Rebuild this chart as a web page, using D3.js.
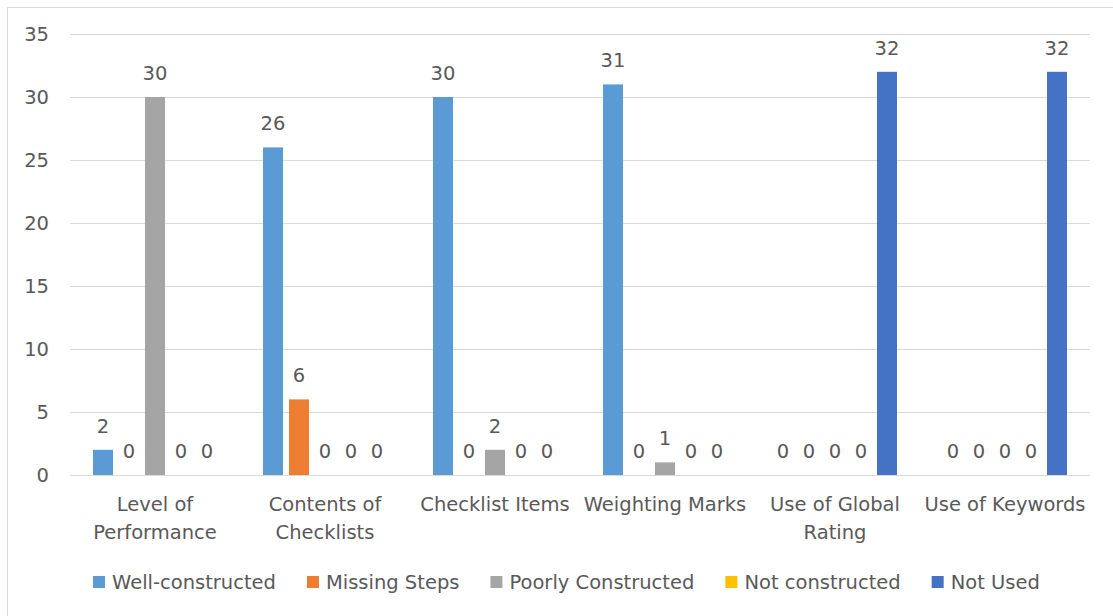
<!DOCTYPE html>
<html>
<head>
<meta charset="utf-8">
<script src="https://d3js.org/d3.v7.min.js"></script>
<style>
  body { margin: 0; background: #fff; }
  svg { display: block; font-family: "DejaVu Sans", sans-serif; }
</style>
</head>
<body>
<div class="main"></div>
<script>
//// data
const categories = ['Level of Performance', 'Contents of Checklists', 'Checklist Items', 'Weighting Marks', 'Use of Global Rating', 'Use of Keywords'];
const seriesNames = ['Well-constructed', 'Missing Steps', 'Poorly Constructed', 'Not constructed', 'Not Used'];
const wellConstructed = [2, 26, 30, 31, 0, 0];
const missingSteps = [0, 6, 0, 0, 0, 0];
const poorlyConstructed = [30, 0, 2, 1, 0, 0];
const notConstructed = [0, 0, 0, 0, 0, 0];
const notUsed = [0, 0, 0, 0, 32, 32];
const yTicks = [0, 5, 10, 15, 20, 25, 30, 35];

const seriesValues = [wellConstructed, missingSteps, poorlyConstructed, notConstructed, notUsed];
const colors = ['#5B9BD5', '#ED7D31', '#A5A5A5', '#FFC000', '#4472C4'];

//// layout
const width = 1113;
const height = 616;
const plotLeft = 70, plotRight = 1090, plotTop = 34, plotBottom = 475;
const textColor = '#595959';
const fontSize = 19.5;
const groupWidth = 124;

const svg = d3.select('.main').append('svg')
  .attr('width', width)
  .attr('height', height);

// outer chart border
svg.append('rect')
  .attr('x', 7.5).attr('y', 7.5)
  .attr('width', 1130).attr('height', 640)
  .attr('fill', 'none')
  .attr('stroke', '#d9d9d9');

const x0 = d3.scaleBand()
  .domain(categories)
  .range([plotLeft, plotRight]);

const x1 = d3.scaleBand()
  .domain(seriesNames)
  .range([0, groupWidth])
  .paddingInner(0.23);

const yScale = d3.scaleLinear()
  .domain([0, 35])
  .range([plotBottom, plotTop]);

// gridlines + y labels
const yAxis = d3.axisLeft(yScale)
  .tickValues(yTicks)
  .tickSize(-(plotRight - plotLeft))
  .tickPadding(21);

const gy = svg.append('g')
  .attr('transform', `translate(${plotLeft}, 0)`)
  .call(yAxis);
gy.select('.domain').remove();
gy.selectAll('.tick line').attr('stroke', '#d9d9d9');
gy.selectAll('.tick text')
  .attr('fill', textColor)
  .attr('font-family', '"DejaVu Sans", sans-serif')
  .attr('font-size', fontSize);

// bars
const groups = svg.selectAll('.group')
  .data(categories)
  .enter()
  .append('g')
  .attr('class', 'group')
  .attr('transform', d => `translate(${x0(d) + x0.bandwidth() / 2 - groupWidth / 2}, 0)`);

groups.selectAll('rect')
  .data((d, i) => seriesNames.map((s, j) => ({ s, v: seriesValues[j][i], c: colors[j] })))
  .enter()
  .append('rect')
  .attr('x', d => x1(d.s))
  .attr('y', d => yScale(d.v))
  .attr('width', x1.bandwidth())
  .attr('height', d => plotBottom - yScale(d.v))
  .attr('fill', d => d.c);

groups.selectAll('text')
  .data((d, i) => seriesNames.map((s, j) => ({ s, v: seriesValues[j][i] })))
  .enter()
  .append('text')
  .attr('x', d => x1(d.s) + x1.bandwidth() / 2)
  .attr('y', d => yScale(d.v) - 17)
  .attr('text-anchor', 'middle')
  .attr('fill', textColor)
  .attr('font-size', fontSize)
  .text(d => d.v);

// category labels, wrapped
const catLabels = svg.selectAll('.cat')
  .data(categories)
  .enter()
  .append('text')
  .attr('class', 'cat')
  .attr('text-anchor', 'middle')
  .attr('fill', textColor)
  .attr('font-size', fontSize)
  .attr('x', d => x0(d) + x0.bandwidth() / 2)
  .attr('y', 511);

catLabels.each(function(d) {
  const el = d3.select(this);
  const words = d.split(' ');
  let line = [];
  let tspan = el.append('tspan').attr('x', el.attr('x')).attr('dy', 0);
  words.forEach(w => {
    line.push(w);
    tspan.text(line.join(' '));
    if (tspan.node().getComputedTextLength() > 170 && line.length > 1) {
      line.pop();
      tspan.text(line.join(' '));
      line = [w];
      tspan = el.append('tspan').attr('x', el.attr('x')).attr('dy', 28).text(w);
    }
  });
});

// legend
const legend = svg.append('g').attr('transform', 'translate(93, 582)');
let lx = 0;
seriesNames.forEach((s, i) => {
  const item = legend.append('g').attr('transform', `translate(${lx}, 0)`);
  item.append('rect')
    .attr('x', 0).attr('y', -6)
    .attr('width', 12).attr('height', 12)
    .attr('fill', colors[i]);
  const t = item.append('text')
    .attr('x', 19)
    .attr('dy', '0.35em')
    .attr('fill', textColor)
    .attr('font-size', fontSize)
    .text(s);
  lx += 19 + t.node().getComputedTextLength() + 31;
});
</script>
</body>
</html>
